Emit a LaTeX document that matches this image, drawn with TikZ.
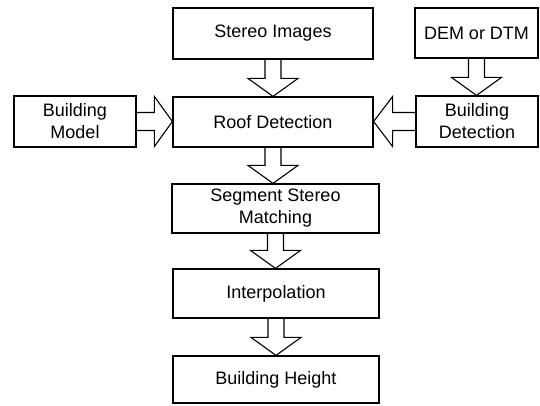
\documentclass[tikz,border=0pt]{standalone}
\usepackage{fontspec}
\setmainfont{Liberation Sans}
\usetikzlibrary{calc}
\tikzset{
  box/.style={draw, line width=1.2pt, rectangle, align=center, inner sep=2pt,
    font=\fontsize{18}{22}\selectfont},
  fat/.style={line width=1.1pt, line join=miter},
  vdown/.style={to path={let \p1=(\tikztostart),\p2=(\tikztotarget) in
    (\x1-8pt,\y1) -- (\x1-8pt,\y2+18pt) -- (\x1-25pt,\y2+18pt) -- (\x1,\y2)
    -- (\x1+25pt,\y2+18pt) -- (\x1+8pt,\y2+18pt) -- (\x1+8pt,\y1)}},
  hright/.style={to path={let \p1=(\tikztostart),\p2=(\tikztotarget) in
    (\x1,\y1+9pt) -- (\x2-18pt,\y1+9pt) -- (\x2-18pt,\y1+25pt) -- (\x2,\y1)
    -- (\x2-18pt,\y1-25pt) -- (\x2-18pt,\y1-9pt) -- (\x1,\y1-9pt)}},
  hleft/.style={to path={let \p1=(\tikztostart),\p2=(\tikztotarget) in
    (\x1,\y1+9pt) -- (\x2+19pt,\y1+9pt) -- (\x2+19pt,\y1+25pt) -- (\x2,\y1)
    -- (\x2+19pt,\y1-25pt) -- (\x2+19pt,\y1-9pt) -- (\x1,\y1-9pt)}},
}
\begin{document}
\begin{tikzpicture}[x=1pt,y=-1pt]
\useasboundingbox[fill=white] (0,0) rectangle (540,405);
\node[box, minimum width=200, minimum height=51] (si) at (273,33.5) {Stereo Images};
\node[box, minimum width=123, minimum height=50] (dem) at (476.5,33) {DEM or DTM};
\node[box, minimum width=122, minimum height=51] (bm) at (75,121.5) {Building\\Model};
\node[box, minimum width=200, minimum height=50] (roof) at (273,122) {Roof Detection};
\node[box, minimum width=122, minimum height=51] (bd) at (477,121.5) {Building\\Detection};
\node[box, minimum width=207, minimum height=49] (seg) at (275.5,208.5) {Segment Stereo\\Matching};
\node[box, minimum width=206, minimum height=49] (interp) at (276,293.5) {Interpolation};
\node[box, minimum width=206, minimum height=47] (bh) at (276,379.5) {Building Height};
\draw[fat] (si.south) to[vdown] (roof.north);
\draw[fat] (dem.south) to[vdown] (bd.north);
\draw[fat] (bm.east) to[hright] (roof.west);
\draw[fat] (bd.west) to[hleft] (roof.east);
\draw[fat] (roof.south) to[vdown] (seg.north);
\draw[fat] (seg.south) to[vdown] (interp.north);
\draw[fat] (interp.south) to[vdown] (bh.north);
\end{tikzpicture}
\end{document}
